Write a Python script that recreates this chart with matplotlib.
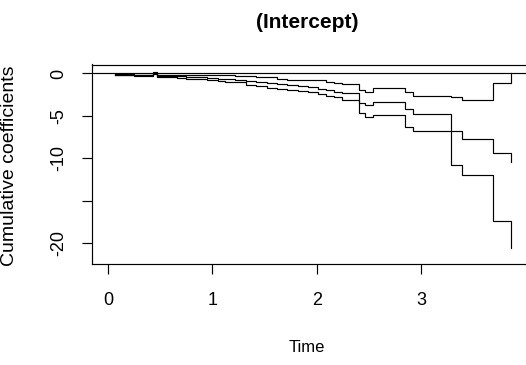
import numpy as np
import matplotlib.pyplot as plt

# step times and the three cumulative curves (upper band, estimate, lower band)
times = [0.07, 0.15, 0.25, 0.35, 0.43, 0.47, 0.55, 0.66, 0.75, 0.85, 0.95,
         1.05, 1.12, 1.22, 1.32, 1.42, 1.52, 1.62, 1.72, 1.82, 1.92, 2.01,
         2.09, 2.17, 2.24, 2.41, 2.46, 2.54, 2.85, 2.92, 3.29, 3.39, 3.69, 3.86]
est = [-0.12, -0.15, -0.18, -0.2, 0.05, -0.25, -0.3, -0.35, -0.4, -0.45, -0.5,
       -0.6, -0.68, -0.75, -0.9, -1.0, -1.1, -1.2, -1.35, -1.45, -1.55, -1.8,
       -2.0, -2.15, -2.3, -3.5, -3.7, -3.4, -4.2, -4.8, -6.8, -7.7, -9.4, -10.4]
upper = [-0.08, -0.1, -0.12, -0.12, 0.15, -0.12, -0.15, -0.17, -0.2, -0.15, -0.2,
         -0.22, -0.18, -0.25, -0.3, -0.38, -0.45, -0.6, -0.75, -0.8, -0.77, -0.8,
         -1.04, -1.1, -1.25, -1.95, -2.15, -1.75, -2.2, -2.65, -2.8, -3.1, -1.15, 0.0]
lower = [-0.15, -0.2, -0.24, -0.28, -0.05, -0.38, -0.45, -0.52, -0.6, -0.68, -0.75,
         -0.85, -0.97, -1.05, -1.3, -1.5, -1.75, -1.85, -2.0, -2.1, -2.2, -2.4,
         -2.6, -2.8, -3.1, -4.7, -5.1, -4.85, -6.3, -6.8, -10.8, -12.0, -17.4, -20.6]

xticks = [0, 1, 2, 3]
yticks = [-20, -15, -10, -5, 0]
ylabels = ['-20', '', '-10', '-5', '0']

W, H = 526, 365
plain = ['Liberation Sans', 'DejaVu Sans']

fig = plt.figure(figsize=(W / 100, H / 100), dpi=100)
ax = fig.add_axes([92 / W, 1 - 264.3 / H, (526.7 - 92) / W, (264.3 - 64.5) / H])

for y in (upper, est, lower):
    ax.step(times, y, where='post', color='black', lw=0.85)
ax.axhline(0, color='black', lw=0.85)

ax.set_xlim(-0.154, 4.014)
ax.set_ylim(-22.5, 1.06)
for s in ax.spines.values():
    s.set_linewidth(0.85)

ax.set_xticks(xticks)
ax.set_xticklabels([str(v) for v in xticks], family=plain, fontsize=13)
ax.set_yticks(yticks)
ax.set_yticklabels(ylabels, family=plain, fontsize=13, rotation=90, va='center')
ax.tick_params(axis='both', length=7.5, width=0.85)
ax.tick_params(axis='x', pad=12.5)
ax.tick_params(axis='y', pad=10.5)

fig.text(307.5 / W, 1 - 23 / H, '(Intercept)', ha='center', va='center',
         fontweight='bold', fontsize=15, family=plain)
fig.text(306.7 / W, 1 - 347 / H, 'Time', ha='center', va='center',
         fontsize=12, family=plain)
fig.text(10 / W, 1 - 166 / H, 'Cumulative coefficients', ha='center', va='center',
         rotation=90, fontsize=14, family=plain)

fig.savefig('out.png', dpi=100)
